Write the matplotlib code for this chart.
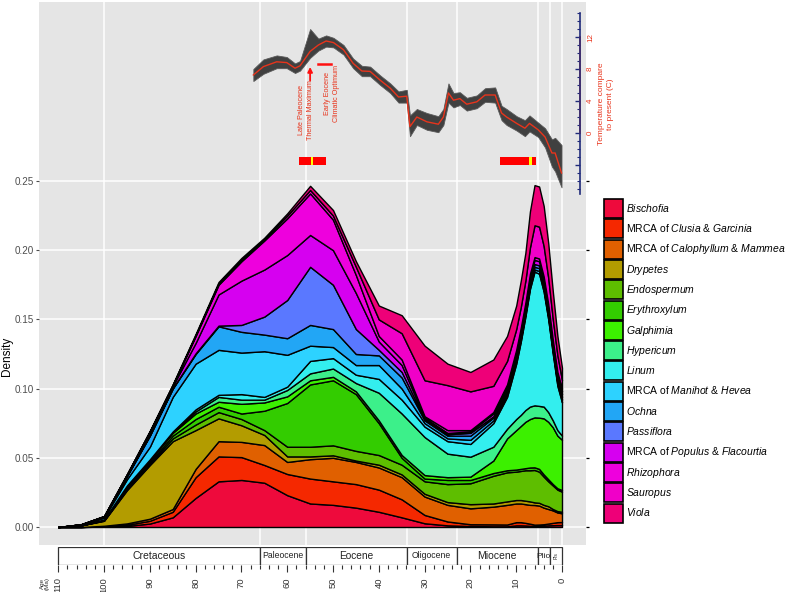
import numpy as np
import matplotlib
matplotlib.use("Agg")
import matplotlib.pyplot as plt
from matplotlib.patches import Patch, Rectangle

plt.rcParams['font.family'] = ['Liberation Sans', 'DejaVu Sans']
plt.rcParams['mathtext.fontset'] = 'custom'
plt.rcParams['mathtext.rm'] = 'Liberation Sans'
plt.rcParams['mathtext.it'] = 'Liberation Sans:italic'

# Ages (Ma) at which the stacked densities were read
ages = [110, 105, 100, 95, 90, 85, 80, 75, 70, 65, 60, 55, 50, 45, 40, 35,
        30, 25, 20, 15, 12, 10, 9, 8, 7, 6, 5, 4, 3, 2, 1, 0]

# Density of each taxon (bottom of the stack first)
bischofia = [0, 0, .0003, .0008, .0025, .007, .021, .033, .034, .032, .023, .017, .016, .014, .011, .007,
             .0027, .0012, .0007, .0005, .0005, .0012, .0012, .0011, .0009, .0007, .0008, .001, .0012, .0013, .0014, .0014]
clusia = [0, 0, .0003, .0008, .002, .004, .015, .018, .0165, .0128, .0153, .018, .017, .017, .016, .013,
          .006, .0028, .0013, .0014, .0013, .0023, .0023, .0019, .0015, .001, .001, .001, .0013, .0017, .0021, .0022]
calophyllum = [0, 0, .0003, .001, .0015, .002, .006, .011, .011, .0144, .0087, .014, .017, .016, .016, .016,
               .0133, .012, .0115, .0128, .0142, .0135, .0135, .0135, .0136, .0142, .0137, .012, .0105, .009, .007, .0063]
drypetes = [0, .0012, .0036, .024, .0388, .049, .028, .0165, .012, .0073, .004, .002, .0018, .001, .002, .002,
            .002, .002, .003, .0023, .0025, .0025, .0025, .0025, .0025, .0019, .002, .002, .002, .001, .001, .0011]
endospermum = [0, 0, .0003, .001, .001, .002, .004, .0045, .0045, .0035, .007, .007, .0072, .007, .007, .007,
               .009, .013, .0151, .020, .021, .0205, .021, .022, .0225, .0234, .0225, .0204, .018, .017, .0155, .0145]
erythroxylum = [0, 0, .0003, .001, .001, .002, .004, .0039, .004, .014, .0316, .045, .047, .041, .023, .005,
                .002, .003, .0024, .002, .0015, .0015, .0015, .0015, .002, .0019, .002, .0016, .0015, .001, .001, .0012]
galphimia = [0, 0, .0002, .0008, .0015, .002, .004, .0036, .007, .006, .0048, .003, .0025, .002, .002, .002,
             .0025, .002, .0024, .009, .023, .0285, .031, .0335, .035, .0361, .037, .0405, .0415, .041, .038, .0363]
hypericum = [0, 0, .0001, .0003, .0003, .0005, .0015, .0035, .003, .002, .0046, .005, .006, .006, .020, .030,
             .0275, .017, .0144, .010, .007, .008, .008, .0085, .009, .0087, .0085, .0085, .007, .005, .004, .003]
linum = [0, 0, .0001, .0003, .0003, .0005, .0015, .0015, .004, .002, .0024, .009, .0075, .006, .010, .010,
         .0075, .009, .0092, .017, .023, .040, .053, .0675, .085, .0966, .0955, .083, .067, .048, .032, .024]
manihot = [0, .0005, .0013, .0045, .0091, .025, .033, .0325, .030, .033, .023, .011, .008, .007, .010, .008,
           .0025, .002, .003, .002, .002, .002, .002, .002, .002, .0015, .002, .002, .002, .002, .002, .002]
ochna = [0, .0002, .0006, .0022, .008, .006, .007, .017, .015, .012, .012, .015, .013, .008, .007, .008,
         .002, .002, .003, .002, .002, .002, .002, .002, .002, .002, .002, .002, .002, .002, .002, .002]
passiflora = [0, 0, .0001, .0002, .0003, .0003, .0005, .0005, .005, .013, .0276, .042, .032, .018, .004, .004,
              .001, .001, .002, .001, .001, .002, .002, .002, .002, .002, .002, .002, .002, .002, .002, .002]
populus = [0, .0001, .0002, .0008, .002, .0015, .0075, .0225, .032, .034, .0325, .023, .025, .026, .006, .005,
           .001, .001, .001, .002, .002, .002, .002, .002, .003, .003, .003, .003, .003, .002, .002, .002]
rhizophora = [0, 0, .0001, .0002, .0005, .0005, .005, .007, .014, .021, .0265, .030, .022, .013, .004, .004,
              .001, .002, .001, .001, .002, .002, .002, .002, .002, .002, .002, .002, .002, .002, .002, .002]
sauropus = [0, 0, .0001, .0002, .0005, .0005, .0007, .001, .0012, .001, .002, .0025, .003, .006, .012, .019,
            .026, .0325, .028, .019, .017, .015, .015, .016, .019, .023, .023, .022, .019, .015, .012, .006]
viola = [0, 0, .0001, .0001, .0002, .0003, .0008, .001, .0012, .001, .0016, .003, .004, .004, .010, .013,
         .025, .0155, .014, .019, .018, .017, .019, .020, .026, .029, .029, .029, .025, .020, .014, .009]

layers = [bischofia, clusia, calophyllum, drypetes, endospermum, erythroxylum, galphimia,
          hypericum, linum, manihot, ochna, passiflora, populus, rhizophora, sauropus, viola]
labels = [r'$\it{Bischofia}$', r'MRCA of $\it{Clusia}$ & $\it{Garcinia}$',
          r'MRCA of $\it{Calophyllum}$ & $\it{Mammea}$', r'$\it{Drypetes}$', r'$\it{Endospermum}$',
          r'$\it{Erythroxylum}$', r'$\it{Galphimia}$', r'$\it{Hypericum}$', r'$\it{Linum}$',
          r'MRCA of $\it{Manihot}$ & $\it{Hevea}$', r'$\it{Ochna}$', r'$\it{Passiflora}$',
          r'MRCA of $\it{Populus}$ & $\it{Flacourtia}$', r'$\it{Rhizophora}$', r'$\it{Sauropus}$',
          r'$\it{Viola}$']
colours = ['#EE0A3C', '#F52800', '#E06000', '#B39C00', '#5EBE00', '#33CC00', '#3CF000', '#3CF08A',
           '#33EEEE', '#2DD2FF', '#22A6F5', '#5A78FF', '#D600F0', '#EE00DD', '#F000C8', '#EE0078']

# Cenozoic temperature curve (smoothed) with spread of the raw points
temp_age = [67.4, 65.2, 62.3, 60.1, 58.3, 57.2, 55.0, 53.2, 51.5, 49.9, 47.7, 45.6, 43.7, 41.9,
            39.7, 37.5, 35.7, 33.9, 33.2, 31.7, 29.5, 27.0, 25.9, 24.8, 23.7, 22.3, 20.8, 18.6,
            16.8, 14.6, 13.2, 12.1, 9.9, 8.1, 7.1, 5.2, 3.7, 2.2, 1.5, 0.1]
temp_mid = [7.25, 8.3, 8.9, 8.8, 8.1, 8.4, 10.2, 11.0, 11.5, 11.3, 10.4, 8.7, 7.75, 7.7,
            6.6, 5.6, 4.5, 4.6, 0.8, 2.0, 1.4, 1.1, 2.0, 5.0, 4.1, 4.3, 3.6, 3.9,
            4.75, 4.75, 2.5, 2.0, 1.2, 0.6, 1.2, 0.4, -0.5, -2.5, -2.5, -5.0]
temp_hi = [8.0, 9.2, 9.7, 9.5, 8.7, 9.0, 13.0, 11.8, 12.2, 11.9, 11.0, 9.3, 8.4, 8.3,
           7.2, 6.2, 5.2, 5.4, 2.2, 3.0, 2.5, 2.1, 3.0, 6.2, 5.0, 5.1, 4.4, 4.7,
           5.6, 5.7, 3.4, 3.0, 2.1, 1.6, 2.2, 1.3, 0.6, -0.8, -0.6, -1.5]
temp_lo = [6.5, 7.4, 8.1, 8.1, 7.5, 7.8, 9.4, 10.3, 10.8, 10.7, 9.8, 8.1, 7.1, 7.1,
           6.0, 5.0, 3.8, 3.8, -0.4, 1.0, 0.4, 0.1, 1.0, 3.8, 3.2, 3.5, 2.8, 3.1,
           3.9, 3.8, 1.6, 1.0, 0.3, -0.4, 0.2, -0.5, -1.8, -4.2, -4.8, -6.8]

# Geological time scale
epochs = ['Cretaceous', 'Paleocene', 'Eocene', 'Oligocene', 'Miocene', 'Plio', 'Pls']
epoch_start = [110, 66, 56, 33.9, 23.03, 5.333, 2.58]
epoch_end = [66, 56, 33.9, 23.03, 5.333, 2.58, 0]
epoch_size = [7.5, 6.2, 7.3, 6.2, 7.5, 6.0, 3.5]

# red/yellow event bars (age ranges) with highlighted ages
bar_ranges = [(57.4, 51.5), (13.5, 5.7)]
bar_marks = [54.6, 6.9]

W, H = 800, 592
XL = (114.2, -5.24)


def box(x0, y0, x1, y1):
    return [x0 / W, 1 - y1 / H, (x1 - x0) / W, (y1 - y0) / H]


fig = plt.figure(figsize=(W / 100, H / 100), dpi=100)

ax = fig.add_axes(box(39, 2, 586, 545))
ax.set_facecolor('#E5E5E5')
ax.set_xlim(*XL)
ax.set_ylim(-0.013, 0.3793)
ax.set_axisbelow(True)
ax.set_xticks([100, 66, 56, 33.9, 23.03, 5.333, 2.58, 0])
ax.set_yticks([0, 0.05, 0.10, 0.15, 0.20, 0.25])
ax.set_yticklabels(['0.00', '0.05', '0.10', '0.15', '0.20', '0.25'])
ax.tick_params(axis='x', bottom=False, labelbottom=False)
ax.tick_params(axis='y', length=2.2, width=0.8, color='#4D4D4D', pad=1.5,
               labelsize=7.1, labelcolor='#4D4D4D')
ax.grid(True, color='white', lw=1.1)
for s in ax.spines.values():
    s.set_visible(False)

ax.stackplot(ages, *layers, colors=colours, edgecolor='black', linewidth=1.0)

axr = ax.twinx()
axr.set_ylim(ax.get_ylim())
axr.set_yticks([0, 0.05, 0.10, 0.15, 0.20, 0.25])
axr.tick_params(axis='y', length=2.2, width=0.9, color='black', labelright=False)
for s in axr.spines.values():
    s.set_visible(False)

fig.text(7 / W, 1 - 356 / H, 'Density', rotation=90, fontsize=8.5, ha='center', va='center')

# temperature inset sharing the age axis
tax = fig.add_axes(box(39, 2, 586, 545))
tax.set_xlim(*XL)
tax.set_ylim((133 - 545) / 8, (133 - 2) / 8)
tax.axis('off')
tax.fill_between(temp_age, temp_lo, temp_hi, color='#404040', lw=0.6, edgecolor='#5A5A5A')
tax.plot(temp_age, temp_mid, color='#E8341C', lw=1.0)

narrow = ['Liberation Sans Narrow', 'Liberation Sans']
tax.annotate('', xy=(55.0, 8.6), xytext=(55.0, 6.2),
             arrowprops=dict(arrowstyle='-|>', color='#FF1010', lw=1.3, mutation_scale=7))
tax.text(55.9, 2.9, 'Late Paleocene\nThermal Maximum', rotation=90, color='#E8341C',
         fontsize=5.2, family=narrow, ha='center', va='center', linespacing=1.55)
tax.plot([53.3, 50.4], [8.6, 8.6], color='#FF1010', lw=1.8)
tax.text(50.2, 4.9, 'Early Eocene\nClimatic Optimum', rotation=90, color='#E8341C',
         fontsize=5.2, family=narrow, ha='center', va='center', linespacing=1.55)

for (a0, a1), m in zip(bar_ranges, bar_marks):
    tax.broken_barh([(a1, a0 - a1)], (-4.0, 1.0), facecolor='#FF0000', lw=0)
    tax.broken_barh([(m - 0.25, 0.5)], (-4.0, 1.0), facecolor='#FFFF00', lw=0)

# temperature scale
tempax = fig.add_axes(box(580, 13, 580.01, 194))
tempax.set_ylim(-7.625, 15.0)
tempax.patch.set_alpha(0)
for k in ['top', 'bottom', 'right']:
    tempax.spines[k].set_visible(False)
tempax.spines['left'].set_color('#1F2A7A')
tempax.spines['left'].set_linewidth(1.2)
tempax.set_xticks([])
tempax.set_yticks([-4, 0, 4, 8, 12])
tempax.set_yticklabels(['', '0', '4', '8', '12'])
tempax.set_yticks(np.arange(-7, 16, 1), minor=True)
tempax.tick_params(axis='y', which='major', length=3.5, width=1.0, color='#1F2A7A',
                   labelleft=False, labelright=True, labelsize=5.8, labelcolor='#E8341C', pad=1.5)
tempax.tick_params(axis='y', which='minor', length=2, width=0.8, color='#1F2A7A')
for t, v in zip(tempax.yaxis.get_major_ticks(), [-4, 0, 4, 8, 12]):
    if v >= 0:
        t.tick1line.set_color('#E8341C')
for lab in tempax.get_yticklabels():
    lab.set_rotation(90)
    lab.set_va('center')
tempax.plot([0, 0], [0, 12], color='#E8341C', lw=1.2, transform=tempax.get_yaxis_transform(),
            clip_on=False)
fig.text(606 / W, 1 - 104 / H, 'Temperature compare\nto present (C)', rotation=90, color='#E8341C',
         fontsize=6.0, ha='center', va='center', linespacing=1.25)

# geological time scale under the panel
ts = fig.add_axes(box(39, 547, 586, 565))
ts.set_xlim(*XL)
ts.set_ylim(0, 1)
for s in ts.spines.values():
    s.set_visible(False)
ts.set_yticks([])
for name, a0, a1, fs in zip(epochs, epoch_start, epoch_end, epoch_size):
    ts.add_patch(Rectangle((a1, 0), a0 - a1, 1, facecolor='white', edgecolor='#333333', lw=0.9))
    rot = 90 if name == 'Pls' else 0
    ts.text((a0 + a1) / 2, 0.5, name, ha='center', va='center', fontsize=fs, rotation=rot,
            color='#222222')
ts.set_xticks(np.arange(110, -1, -10))
ts.set_xticks(np.arange(110, -1, -2), minor=True)
ts.set_xticklabels([str(v) for v in range(110, -1, -10)], rotation=90)
ts.tick_params(axis='x', which='major', length=5, width=0.8, color='#333333', labelsize=6.8,
               pad=4, labelcolor='#333333')
ts.tick_params(axis='x', which='minor', length=3, width=0.8, color='#333333')
fig.text(45 / W, 1 - 583 / H, 'Age\n(Ma)', rotation=90, fontsize=4.5, ha='center', va='center',
         color='#333333', linespacing=1.0)

handles = [Patch(facecolor=c, edgecolor='black', lw=1.2) for c in colours]
fig.legend(handles, labels, loc='upper left', bbox_to_anchor=(604 / W, 1 - 199 / H),
           frameon=False, fontsize=7.5, handlelength=1.82, handleheight=2.43,
           labelspacing=0.125, handletextpad=0.3, borderpad=0, borderaxespad=0)

fig.savefig('out.png', dpi=100)
